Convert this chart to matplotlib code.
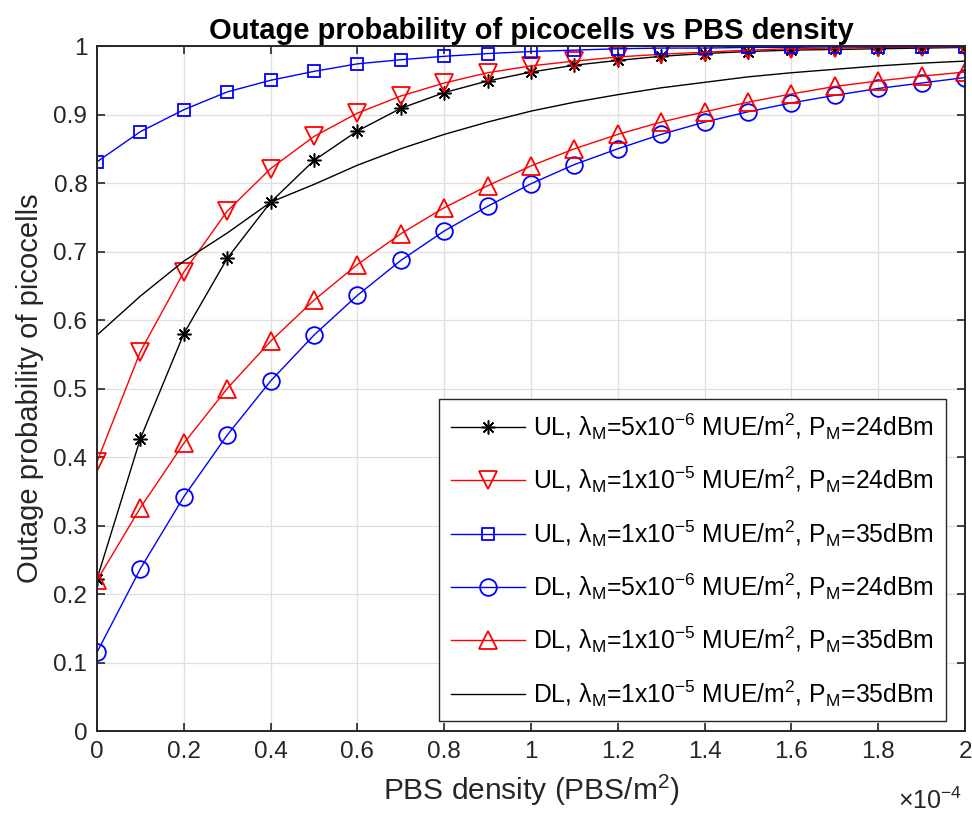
import numpy as np
from matplotlib import pyplot as plt
from matplotlib.ticker import FuncFormatter, MultipleLocator

plt.rcParams['font.family'] = ['Liberation Sans', 'DejaVu Sans']
plt.rcParams['mathtext.fontset'] = 'custom'
plt.rcParams['mathtext.rm'] = 'Liberation Sans'
plt.rcParams['mathtext.default'] = 'regular'

# PBS density, in units of 1e-4 PBS/m^2
density = np.round(np.arange(21) * 0.1, 1)

ul_5e6_24 = [0.222, 0.427, 0.580, 0.690, 0.772, 0.833, 0.876, 0.909, 0.932, 0.949, 0.962,
             0.972, 0.979, 0.985, 0.989, 0.992, 0.994, 0.995, 0.996, 0.997, 0.998]
ul_1e5_24 = [0.393, 0.554, 0.670, 0.759, 0.821, 0.868, 0.902, 0.927, 0.946, 0.961, 0.971,
             0.978, 0.984, 0.988, 0.991, 0.994, 0.996, 0.997, 0.998, 0.998, 0.999]
ul_1e5_35 = [0.831, 0.875, 0.907, 0.933, 0.950, 0.963, 0.974, 0.980, 0.985, 0.989, 0.992,
             0.994, 0.996, 0.997, 0.997, 0.998, 0.998, 0.999, 0.999, 0.999, 0.999]
dl_5e6_24 = [0.115, 0.237, 0.342, 0.432, 0.511, 0.578, 0.636, 0.687, 0.730, 0.766, 0.799,
             0.827, 0.850, 0.871, 0.889, 0.904, 0.917, 0.928, 0.938, 0.946, 0.954]
dl_1e5_35 = [0.220, 0.326, 0.420, 0.500, 0.569, 0.629, 0.681, 0.726, 0.764, 0.796, 0.825,
             0.850, 0.871, 0.889, 0.904, 0.918, 0.930, 0.941, 0.949, 0.956, 0.962]
dl_1e5_35_b = [0.578, 0.635, 0.686, 0.727, 0.772, 0.798, 0.826, 0.850, 0.871, 0.889, 0.905,
               0.918, 0.929, 0.939, 0.947, 0.955, 0.961, 0.966, 0.971, 0.975, 0.978]

labels = [
    'UL, λ$_M$=5x10$^{-6}$ MUE/m$^2$, P$_M$=24dBm',
    'UL, λ$_M$=1x10$^{-5}$ MUE/m$^2$, P$_M$=24dBm',
    'UL, λ$_M$=1x10$^{-5}$ MUE/m$^2$, P$_M$=35dBm',
    'DL, λ$_M$=5x10$^{-6}$ MUE/m$^2$, P$_M$=24dBm',
    'DL, λ$_M$=1x10$^{-5}$ MUE/m$^2$, P$_M$=35dBm',
    'DL, λ$_M$=1x10$^{-5}$ MUE/m$^2$, P$_M$=35dBm',
]

fig = plt.figure(figsize=(9.72, 8.19), dpi=100)
ax = fig.add_axes([0.0998, 0.1074, 0.893, 0.8364])

x = density * 1e-4
lw = 1.0
mew = 1.3
ax.plot(x, ul_5e6_24, color='k', lw=lw, marker=(8, 2, 0), ms=10, mew=1.1, label=labels[0])
ax.plot(x, ul_1e5_24, color='r', lw=lw, marker='v', ms=13, mfc='none', mew=mew, label=labels[1])
ax.plot(x, ul_1e5_35, color='b', lw=lw, marker='s', ms=9, mfc='none', mew=mew, label=labels[2])
ax.plot(x, dl_5e6_24, color='b', lw=lw, marker='o', ms=12, mfc='none', mew=mew, label=labels[3])
ax.plot(x, dl_1e5_35, color='r', lw=lw, marker='^', ms=13, mfc='none', mew=mew, label=labels[4])
ax.plot(x, dl_1e5_35_b, color='k', lw=lw, label=labels[5])

ax.set_xlim(0, 2e-4)
ax.set_ylim(0, 1)
ax.xaxis.set_major_locator(MultipleLocator(0.2e-4))
ax.yaxis.set_major_locator(MultipleLocator(0.1))
ax.xaxis.set_major_formatter(FuncFormatter(lambda v, p: '%g' % round(v / 1e-4, 6)))
ax.yaxis.set_major_formatter(FuncFormatter(lambda v, p: '%g' % round(v, 6)))

ax.grid(True, color='#dfdfdf', lw=0.9)
ax.set_axisbelow(True)
for s in ax.spines.values():
    s.set_color('#262626')
    s.set_linewidth(1.4)
ax.tick_params(direction='in', top=True, right=True, length=6, width=1.2,
               color='#262626', labelcolor='#262626', labelsize=17.5, pad=7)

ax.set_title('Outage probability of picocells vs PBS density', fontsize=21, fontweight='bold', pad=5)
ax.set_xlabel('PBS density (PBS/m$^2$)', fontsize=21.5, color='#262626', labelpad=7)
ax.set_ylabel('Outage probability of picocells', fontsize=21, color='#262626', labelpad=7)
fig.text(0.99, 0.012, '×10$^{-4}$', ha='right', va='baseline', fontsize=18, color='#262626')

leg = ax.legend(loc='lower right', bbox_to_anchor=(0.9733, 0.1197), bbox_transform=fig.transFigure,
                fontsize=17.8, fancybox=False, framealpha=1, edgecolor='#262626',
                handlelength=3.0, handletextpad=0.3, labelspacing=0.92, borderpad=0.5,
                borderaxespad=0)
leg.get_frame().set_linewidth(1.0)

plt.savefig('out.png', dpi=100)
